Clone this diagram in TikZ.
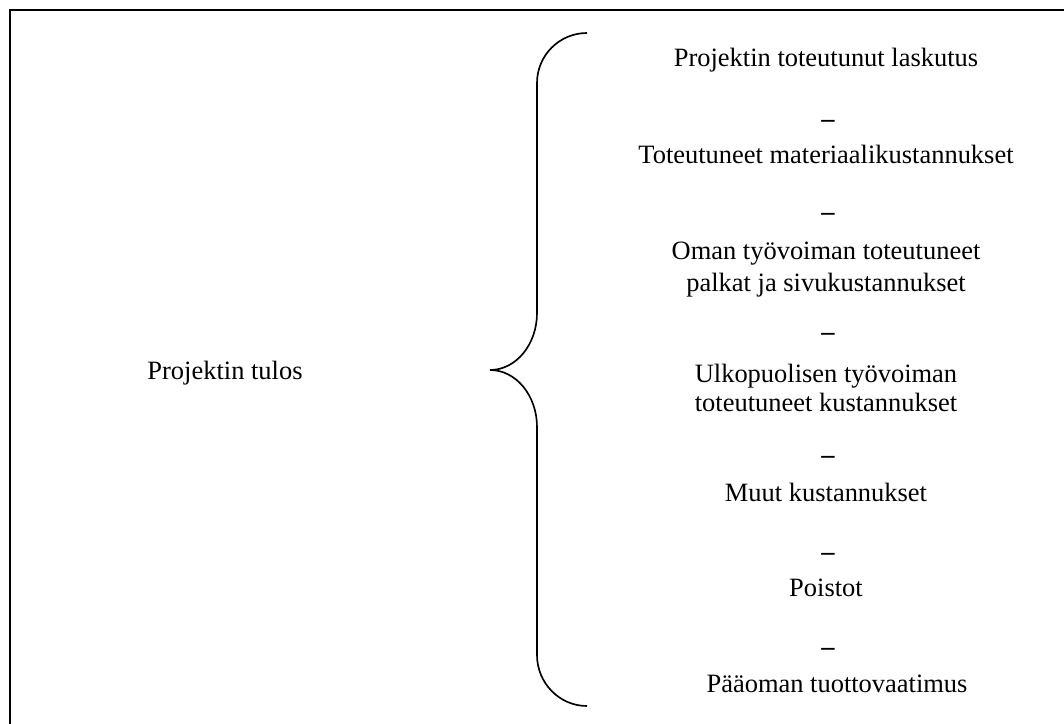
\documentclass[tikz,border=0pt]{standalone}
\usepackage{fontspec}
\setmainfont{Liberation Serif}
\usepackage{tikz}
\usetikzlibrary{positioning}

\tikzset{
  term/.style={anchor=base, inner sep=0pt, font=\fontsize{12}{14}\selectfont},
  minus/.style={term, font=\fontsize{12}{14}\selectfont\bfseries},
  frameline/.style={line width=1pt},
  braceline/.style={line width=0.75pt}
}

\begin{document}
\begin{tikzpicture}[x=0.4535pt,y=-0.4535pt]
\useasboundingbox (0,0) rectangle (1064,724);

% frame, cut by the page on the right and at the bottom
\draw[frameline] (10,724) -- (10,10) -- (1064,10);

\node[term] (tulos) at (225,380) {Projektin tulos};

% the brace
\draw[braceline] (587,33) .. controls (559.4,33) and (537,55.4) .. (537,83)
  -- (537,313) .. controls (537,344.5) and (516,370) .. (490,370)
  .. controls (516,370) and (537,395.5) .. (537,427)
  -- (537,655) .. controls (537,683) and (559.4,706) .. (587,706);

\node[term] (laskutus) at (826,67) {Projektin toteutunut laskutus};
\node[minus] (m1) at (828,128) {\textendash};
\node[term] (materiaali) at (826,164) {Toteutuneet materiaalikustannukset};
\node[minus] (m2) at (828,221) {\textendash};
\node[term] (oma1) at (826,260) {Oman työvoiman toteutuneet};
\node[term] (oma2) at (826,292) {palkat ja sivukustannukset};
\node[minus] (m3) at (828,341) {\textendash};
\node[term] (ulko1) at (826,383) {Ulkopuolisen työvoiman};
\node[term] (ulko2) at (826,412) {toteutuneet kustannukset};
\node[minus] (m4) at (828,463) {\textendash};
\node[term] (muut) at (826,501) {Muut kustannukset};
\node[minus] (m5) at (828,560) {\textendash};
\node[term] (poistot) at (826,596) {Poistot};
\node[minus] (m6) at (828,655) {\textendash};
\node[term] (paaoma) at (837,692) {Pääoman tuottovaatimus};
\end{tikzpicture}
\end{document}
